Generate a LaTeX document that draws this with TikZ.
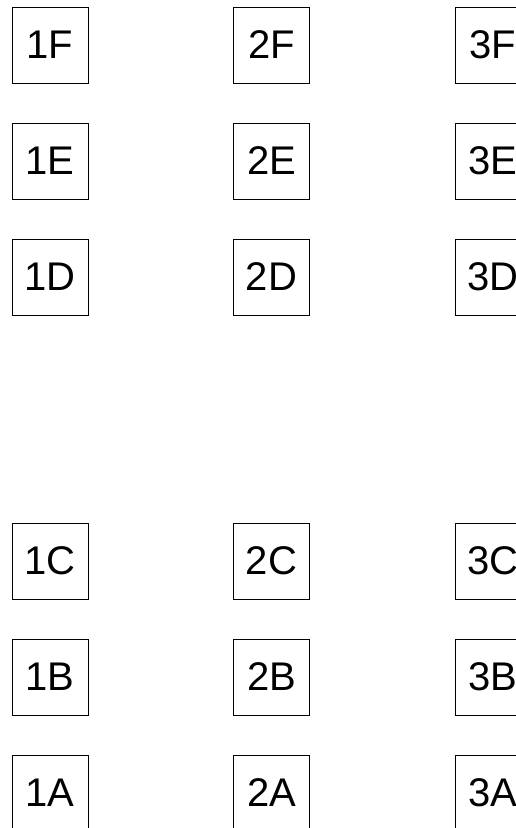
\documentclass[tikz,border=0pt]{standalone}
\usepackage{fontspec}
\setmainfont{Liberation Sans}
\usepackage{tikz}

\begin{document}
\begin{tikzpicture}[x=1pt, y=1pt, seat/.style={draw, line width=0.8pt, minimum size=76pt, inner sep=0pt, font=\fontsize{40}{48}\selectfont}]
  \useasboundingbox (0,0) rectangle (516,828);
  \node[seat] (1F) at (50,783) {1F};
  \node[seat] (2F) at (271.5,783) {2F};
  \node[seat] (3F) at (493,783) {3F};
  \node[seat] (1E) at (50,667) {1E};
  \node[seat] (2E) at (271.5,667) {2E};
  \node[seat] (3E) at (493,667) {3E};
  \node[seat] (1D) at (50,551) {1D};
  \node[seat] (2D) at (271.5,551) {2D};
  \node[seat] (3D) at (493,551) {3D};
  \node[seat] (1C) at (50,267) {1C};
  \node[seat] (2C) at (271.5,267) {2C};
  \node[seat] (3C) at (493,267) {3C};
  \node[seat] (1B) at (50,151) {1B};
  \node[seat] (2B) at (271.5,151) {2B};
  \node[seat] (3B) at (493,151) {3B};
  \node[seat] (1A) at (50,35) {1A};
  \node[seat] (2A) at (271.5,35) {2A};
  \node[seat] (3A) at (493,35) {3A};
\end{tikzpicture}
\end{document}
